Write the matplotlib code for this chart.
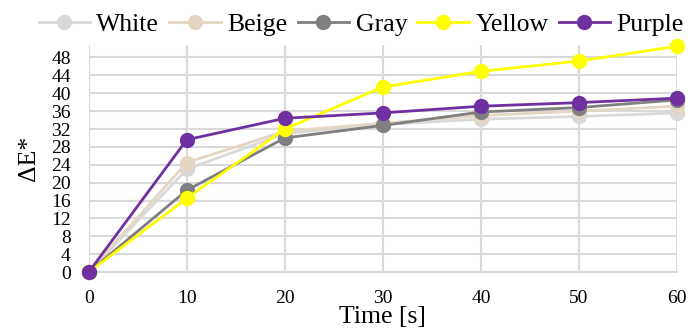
import matplotlib
matplotlib.use("Agg")
import matplotlib.pyplot as plt

# time points and colour difference per sample colour
time_s = [0, 10, 20, 30, 40, 50, 60]
white = [0, 23.0, 31.0, 33.0, 34.2, 34.8, 35.6]
beige = [0, 24.5, 31.5, 33.3, 35.0, 36.0, 37.1]
gray = [0, 18.3, 30.0, 32.8, 35.8, 36.8, 38.5]
yellow = [0, 16.5, 32.0, 41.4, 44.9, 47.2, 50.5]
purple = [0, 29.6, 34.4, 35.6, 37.1, 37.9, 38.9]

series = [
    ("White", white, "#d9d9d9"),
    ("Beige", beige, "#e5d6c4"),
    ("Gray", gray, "#7f7f7f"),
    ("Yellow", yellow, "#ffff00"),
    ("Purple", purple, "#7030a0"),
]
y_ticks = list(range(0, 49, 4))
x_ticks = [0, 10, 20, 30, 40, 50, 60]

plt.rcParams['font.family'] = ['Liberation Serif', 'DejaVu Serif']

fig = plt.figure(figsize=(6.88, 3.33), dpi=100)
ax = fig.add_axes([0.129, 0.183, 0.855, 0.682])

for name, vals, col in series:
    ax.plot(time_s, vals, color=col, lw=2, marker='o', markersize=10,
            label=name, clip_on=False, zorder=3)

ax.set_xlim(0, 60)
ax.set_ylim(0, 50.8)
ax.set_xticks(x_ticks)
ax.set_yticks(y_ticks)
ax.grid(True, color='#d9d9d9', lw=1.5)
ax.set_axisbelow(True)
for s in ['top', 'right', 'left']:
    ax.spines[s].set_visible(False)
ax.spines['bottom'].set_color('#d9d9d9')
ax.spines['bottom'].set_linewidth(1.5)
ax.tick_params(axis='both', length=0, labelsize=14)
ax.tick_params(axis='x', pad=13)
ax.tick_params(axis='y', pad=13)

ax.set_xlabel("Time [s]", fontsize=18.5, labelpad=-1)
ax.set_ylabel("ΔE*", fontsize=18.5, labelpad=8)

ax.legend(loc='lower center', bbox_to_anchor=(0.463, 1.03), ncol=5, frameon=False,
          fontsize=18.5, handlelength=2.0, handletextpad=0.25, columnspacing=0.4,
          borderaxespad=0.0, borderpad=0.1)

fig.savefig("out.png", dpi=100)
